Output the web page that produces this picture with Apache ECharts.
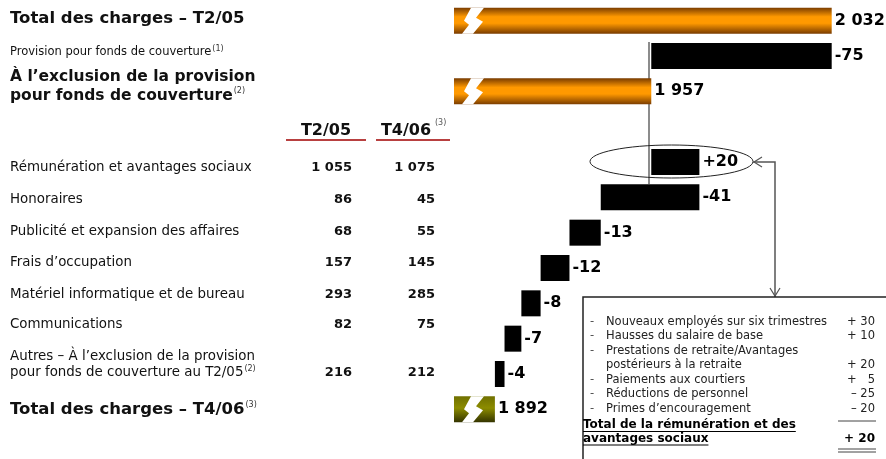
<!DOCTYPE html>
<html>
<head>
<meta charset="utf-8">
<script src="https://cdn.jsdelivr.net/npm/echarts@6/dist/echarts.min.js"></script>
<style>
html, body { margin: 0; padding: 0; background: #fff; }
#main { width: 886px; height: 459px; }
</style>
</head>
<body>
<div id="main"></div>
<script>
// waterfall rows, top to bottom ('' = empty row for the table header)
var categories = [
    'Total des charges – T2/05',
    'Provision pour fonds de couverture',
    'À l’exclusion de la provision\npour fonds de couverture',
    '',
    'Rémunération et avantages sociaux',
    'Honoraires',
    'Publicité et expansion des affaires',
    'Frais d’occupation',
    'Matériel informatique et de bureau',
    'Communications',
    'Autres – À l’exclusion de la provision\npour fonds de couverture au T2/05',
    'Total des charges – T4/06'
];
var footnotes = ['', '(1)', '(2)', '', '', '', '', '', '', '', '(2)', '(3)'];
var startTotal = 2032;
var provision = -75;
var changes = [20, -41, -13, -12, -8, -7, -4];

// table columns (rows 4..10)
var columns = ['T2/05', 'T4/06'];
var q205 = [1055, 86, 68, 157, 293, 82, 216];
var q406 = [1075, 45, 55, 145, 285, 75, 212];

// detail box for salaries
var detailLabels = [
    'Nouveaux employés sur six trimestres',
    'Hausses du salaire de base',
    'Prestations de retraite/Avantages\npostérieurs à la retraite',
    'Paiements aux courtiers',
    'Réductions de personnel',
    'Primes d’encouragement'
];
var detailValues = [30, 10, 20, 5, -25, -20];
var detailTotalLabel = 'Total de la rémunération et des\navantages sociaux';

var FONT = '"DejaVu Sans", Verdana, sans-serif';
function font(size, bold) { return (bold ? 'bold ' : '') + size + 'px ' + FONT; }
var ctx = document.createElement('canvas').getContext('2d');
function measure(t, f) { ctx.font = f; return ctx.measureText(t).width; }
function fmt(n) { return String(n).replace(/\B(?=(\d{3})+(?!\d))/g, ' '); }
function sgn(n) { return (n > 0 ? '+' : '') + n; }

var orange = new echarts.graphic.LinearGradient(0, 0, 0, 1, [
    { offset: 0, color: '#7a3c00' }, { offset: 0.35, color: '#ff9900' },
    { offset: 0.6, color: '#ff9900' }, { offset: 1, color: '#7a3c00' }
]);
var olive = new echarts.graphic.LinearGradient(0, 0, 0, 1, [
    { offset: 0, color: '#707000' }, { offset: 0.45, color: '#8c8c00' },
    { offset: 1, color: '#333300' }
]);

// build waterfall
var base = [], bars = [], labels = [], breakRows = [];
function total(v, color) {
    breakRows.push(base.length);
    base.push(0);
    bars.push({ value: v, itemStyle: { color: color } });
    labels.push(fmt(v));
}
function step(level, d) {
    base.push(Math.min(level, level + d));
    bars.push({ value: Math.abs(d), itemStyle: { color: '#000' } });
    labels.push(sgn(d));
    return level + d;
}
var level = startTotal;
total(level, orange);
level = step(level, provision);
total(level, orange);
base.push(null); bars.push(null); labels.push('');
changes.forEach(function (d) { level = step(level, d); });
total(level, olive);

// lightning "axis break" shape, relative to bar start / row centre
var bolt = [[17, -13], [30, -13], [22, -3], [29, 1], [19, 13], [8, 13], [15, 4], [10, 0]];

var graphics = [];
function text(x, y, t, f, align, color) {
    graphics.push({ type: 'text', x: x, y: y, silent: true,
        style: { text: t, font: f, fill: color || '#111', align: align || 'left', verticalAlign: 'middle' } });
}
function line(x1, y1, x2, y2, color, w) {
    graphics.push({ type: 'line', silent: true, shape: { x1: x1, y1: y1, x2: x2, y2: y2 },
        style: { stroke: color, lineWidth: w || 1 } });
}

// left labels
var textLayout = [
    { y: 19, size: 16.5, bold: true },
    { y: 52, size: 11.5 },
    { y: 86.5, size: 15.5, bold: true, lh: 19 },
    null,
    { y: 168, size: 13.4 }, { y: 200, size: 13.4 }, { y: 232, size: 13.4 }, { y: 263, size: 13.4 },
    { y: 295, size: 13.4 }, { y: 325, size: 13.4 },
    { y: 365, size: 13.4, lh: 16 },
    { y: 410, size: 16.5, bold: true }
];
categories.forEach(function (c, i) {
    var L = textLayout[i];
    if (!L) return;
    var lines = c.split('\n');
    var lh = L.lh || 0;
    var y0 = L.y - lh * (lines.length - 1) / 2;
    var f = font(L.size, L.bold);
    lines.forEach(function (s, k) { text(10, y0 + k * lh, s, f); });
    var yl = y0 + lh * (lines.length - 1);
    if (footnotes[i]) {
        var w = measure(lines[lines.length - 1], f);
        text(10 + w + 1, yl - L.size * 0.3, footnotes[i], font(8), 'left', '#333');
    }
    if (i >= 4 && i <= 10) {
        text(352, yl, fmt(q205[i - 4]), font(13, true), 'right');
        text(435, yl, fmt(q406[i - 4]), font(13, true), 'right');
    }
});
// table headers
text(326, 131, columns[0], font(16, true), 'center');
text(406, 131, columns[1], font(16, true), 'center');
text(435, 123, '(3)', font(8), 'left', '#555');
line(286, 140, 366, 140, '#a00000', 1.5);
line(376, 140, 450, 140, '#a00000', 1.5);

// connector, ellipse and arrow
line(649, 42, 649, 184, '#666', 1.5);
graphics.push({ type: 'ellipse', silent: true, shape: { cx: 671.5, cy: 161.5, rx: 81.5, ry: 16.5 },
    style: { fill: null, stroke: '#222', lineWidth: 1 } });
graphics.push({ type: 'polyline', silent: true, shape: { points: [[753, 162], [775, 162], [775, 297]] },
    style: { stroke: '#555', lineWidth: 1.5, fill: null } });
graphics.push({ type: 'polyline', silent: true, shape: { points: [[762, 157], [754, 162], [762, 167]] },
    style: { stroke: '#555', lineWidth: 1.2, fill: null } });
graphics.push({ type: 'polyline', silent: true, shape: { points: [[770, 288], [775, 296], [780, 288]] },
    style: { stroke: '#555', lineWidth: 1.2, fill: null } });

// detail box
graphics.push({ type: 'rect', silent: true, shape: { x: 583, y: 297, width: 400, height: 200 },
    style: { fill: null, stroke: '#222', lineWidth: 1.5 } });
var by = 322, bstep = 14.5, bf = font(11.5);
detailLabels.forEach(function (lab, i) {
    var lines = lab.split('\n');
    text(590, by, '-', bf, 'left', '#555');
    lines.forEach(function (s) { text(606, by, s, bf, 'left', '#222'); by += bstep; });
    var v = detailValues[i];
    var num = Math.abs(v) < 10 ? '\u2007' + Math.abs(v) : String(Math.abs(v));
    text(875, by - bstep, (v > 0 ? '+ ' : '– ') + num, bf, 'right', '#222');
});
line(838, 421, 876, 421, '#444', 1);
var tf = font(12, true);
var tl = detailTotalLabel.split('\n');
tl.forEach(function (s, k) {
    var y = 425 + k * 13.5;
    text(583, y, s, tf, 'left', '#000');
    line(583, y + 6.5, 583 + measure(s, tf), y + 6.5, '#000', 1.2);
});
var sumDetail = detailValues.reduce(function (a, b) { return a + b; }, 0);
text(875, 438.5, (sumDetail >= 0 ? '+ ' : '– ') + Math.abs(sumDetail), tf, 'right', '#000');
line(838, 449, 876, 449, '#444', 1);
line(838, 452, 876, 452, '#444', 1);

var chart = echarts.init(document.getElementById('main'));
chart.setOption({
    animation: false,
    grid: { left: 454, right: 11, top: 3, bottom: 32 },
    xAxis: { type: 'value', min: 1875, max: 2050, show: false },
    yAxis: { type: 'category', data: categories, inverse: true, show: false },
    series: [
        {
            type: 'bar', stack: 'w', data: base, barWidth: 26, silent: true,
            itemStyle: { color: 'rgba(0,0,0,0)' }
        },
        {
            type: 'bar', stack: 'w', data: bars, barWidth: 26,
            label: {
                show: true, position: 'right', distance: 3,
                fontSize: 16, fontWeight: 'bold', fontFamily: FONT, color: '#000',
                formatter: function (p) { return labels[p.dataIndex]; }
            }
        },
        {
            type: 'custom', z: 3, silent: true,
            data: breakRows.map(function (r) { return [1875, r]; }),
            renderItem: function (params, api) {
                var y = api.coord([api.value(0), api.value(1)])[1];
                var x = params.coordSys.x;
                return {
                    type: 'polygon',
                    shape: { points: bolt.map(function (p) { return [x + p[0], y + p[1]]; }) },
                    style: { fill: '#fff' }
                };
            }
        }
    ],
    graphic: graphics
});
</script>
</body>
</html>
